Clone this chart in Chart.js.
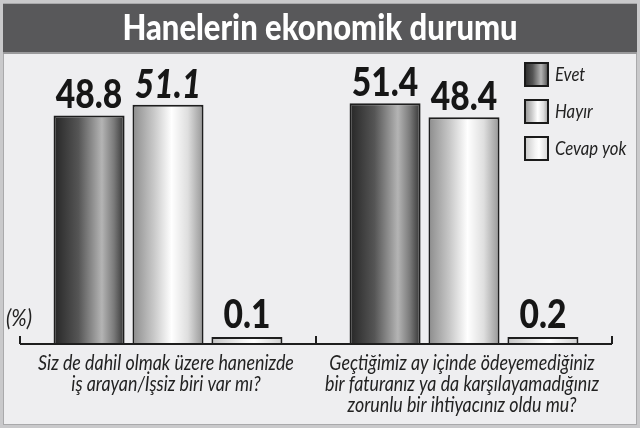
<!DOCTYPE html>
<html>
<head>
<meta charset="utf-8">
<script src="https://cdn.jsdelivr.net/npm/chart.js@4.4.1/dist/chart.umd.min.js"></script>
<style>
html,body{margin:0;padding:0;background:#fff;}
#wrap{width:640px;height:428px;position:relative;}
canvas{display:block;}
</style>
</head>
<body>
<div id="wrap"><canvas id="c" width="640" height="428"></canvas></div>
<script>
const chartTitle = 'Hanelerin ekonomik durumu';
const categories = [
  ['Siz de dahil olmak üzere hanenizde', 'iş arayan/İşsiz biri var mı?'],
  ['Geçtiğimiz ay içinde ödeyemediğiniz', 'bir faturanız ya da karşılayamadığınız', 'zorunlu bir ihtiyacınız oldu mu?']
];
const seriesNames = ['Evet', 'Hayır', 'Cevap yok'];
const evetValues = [48.8, 51.4];
const hayirValues = [51.1, 48.4];
const cevapYokValues = [0.1, 0.2];
const unitLabel = '(%)';

const FONT = 'Lato, Roboto, "DejaVu Sans", sans-serif';
const gradStops = [
  [[0,'#262626'],[0.35,'#555555'],[0.68,'#b4b4b4'],[0.85,'#7a7a7a'],[1,'#333333']],
  [[0,'#8c8c8c'],[0.3,'#c8c8c8'],[0.55,'#ffffff'],[0.78,'#dedede'],[1,'#959595']],
  [[0,'#c4c4c4'],[0.45,'#f4f4f4'],[0.6,'#ffffff'],[1,'#d0d0d0']]
];
function makeGrad(ctx, x0, x1, idx){
  const g = ctx.createLinearGradient(x0, 0, x1, 0);
  gradStops[idx].forEach(s => g.addColorStop(s[0], s[1]));
  return g;
}
function sText(ctx, text, x, y, font, sx, align){
  ctx.save();
  ctx.font = font;
  ctx.translate(x, y);
  ctx.scale(sx, 1);
  ctx.textAlign = align || 'center';
  ctx.textBaseline = 'alphabetic';
  ctx.fillText(text, 0, 0);
  ctx.restore();
}

const framePlugin = {
  id: 'frame',
  beforeDraw(chart){
    const ctx = chart.ctx;
    ctx.save();
    ctx.fillStyle = '#c9c9cb';
    ctx.fillRect(0, 0, 640, 428);
    ctx.fillStyle = '#eeeef0';
    ctx.fillRect(3, 3, 634, 422);
    ctx.strokeStyle = '#a9a9ab';
    ctx.lineWidth = 1;
    ctx.strokeRect(3.5, 3.5, 633, 421);
    // title bar
    ctx.fillStyle = '#58585a';
    ctx.fillRect(3, 4, 634, 48);
    ctx.strokeStyle = '#9a9a9c';
    ctx.lineWidth = 2;
    ctx.beginPath(); ctx.moveTo(3, 53); ctx.lineTo(637, 53); ctx.stroke();
    ctx.fillStyle = '#ffffff';
    sText(ctx, chartTitle, 320, 40, '900 36px ' + FONT, 0.86);
    ctx.restore();
  },
  beforeDatasetsDraw(chart){
    const ctx = chart.ctx;
    chart.data.datasets.forEach((ds, di) => {
      chart.getDatasetMeta(di).data.forEach(el => {
        const x0 = el.x - el.width / 2, x1 = el.x + el.width / 2;
        el.options = Object.assign({}, el.options, {backgroundColor: makeGrad(ctx, x0, x1, di)});
      });
    });
  },
  afterDatasetsDraw(chart){
    const ctx = chart.ctx;
    const area = chart.chartArea;
    const xs = chart.scales.x;
    ctx.save();
    // axis
    ctx.strokeStyle = '#1e1e1e';
    ctx.lineWidth = 2;
    ctx.beginPath();
    ctx.moveTo(area.left, area.bottom);
    ctx.lineTo(area.right, area.bottom);
    const tickXs = [area.left];
    for (let i = 0; i < categories.length - 1; i++) tickXs.push(xs.getPixelForValue(i + 0.5));
    tickXs.push(area.right);
    tickXs.forEach(x => { ctx.moveTo(x, area.bottom); ctx.lineTo(x, area.bottom - 8); });
    ctx.stroke();
    // value labels
    ctx.fillStyle = '#161616';
    chart.data.datasets.forEach((ds, di) => {
      chart.getDatasetMeta(di).data.forEach((el, i) => {
        const italic = (di === 1 && i === 0) ? 'italic ' : '';
        const gap = ds.data[i] < 1 ? 9 : 7;
        sText(ctx, ds.data[i].toFixed(1), el.x, el.y - gap, italic + '900 40px ' + FONT, 0.84);
      });
    });
    // category labels
    ctx.fillStyle = '#222222';
    categories.forEach((lines, ci) => {
      const cx = xs.getPixelForValue(ci) - 2;
      lines.forEach((ln, li) => {
        sText(ctx, ln, cx, area.bottom + 26 + li * 21, 'italic 21px ' + FONT, 0.85);
      });
    });
    // unit label
    sText(ctx, unitLabel, 6, 326, 'italic 23px ' + FONT, 0.9, 'left');
    // legend
    seriesNames.forEach((name, si) => {
      const bx = 524, by = 62 + si * 37, bw = 25, bh = 25;
      ctx.fillStyle = makeGrad(ctx, bx, bx + bw, si);
      ctx.fillRect(bx, by, bw, bh);
      ctx.strokeStyle = '#1a1a1a';
      ctx.lineWidth = 2;
      ctx.strokeRect(bx + 1, by + 1, bw - 2, bh - 2);
      ctx.fillStyle = '#222222';
      sText(ctx, name, 555, by + 19, 'italic 19px ' + FONT, 0.88, 'left');
    });
    ctx.restore();
  }
};

const barStyle = {categoryPercentage: 0.8, barPercentage: 0.9, borderWidth: 2, borderColor: '#1e1e1e', backgroundColor: '#888888', minBarLength: 7};

new Chart(document.getElementById('c'), {
  type: 'bar',
  data: {
    labels: categories,
    datasets: [
      Object.assign({label: seriesNames[0], data: evetValues}, barStyle),
      Object.assign({label: seriesNames[1], data: hayirValues}, barStyle),
      Object.assign({label: seriesNames[2], data: cevapYokValues}, barStyle)
    ]
  },
  options: {
    responsive: false,
    animation: false,
    events: [],
    layout: {padding: {left: 20, right: 28, top: 63, bottom: 84}},
    plugins: {colors: {enabled: false}, legend: {display: false}, tooltip: {enabled: false}, title: {display: false}},
    scales: {
      x: {display: false},
      y: {display: false, min: 0, max: 60}
    }
  },
  plugins: [framePlugin]
});
</script>
</body>
</html>
